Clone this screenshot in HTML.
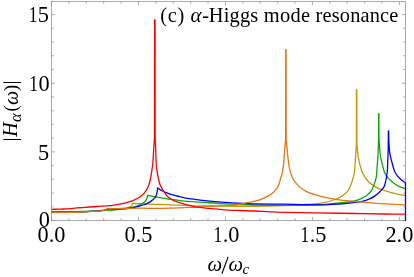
<!DOCTYPE html>
<html><head><meta charset="utf-8"><style>
html,body{margin:0;padding:0;background:#fff;}
svg{display:block;will-change:transform;}
text{font-family:"Liberation Serif",serif;fill:#000;}
</style></head><body>
<svg width="414" height="277" viewBox="0 0 414 277">
<rect width="414" height="277" fill="#fff"/>
<g fill="none" stroke="#8c8c8c" stroke-width="0.72">
<rect x="51.5" y="1.5" width="354.0" height="219.0"/>
<path d="M51.50 220.50v-3.60M51.50 1.50v3.60M68.89 220.50v-2.20M68.89 1.50v2.20M86.29 220.50v-2.20M86.29 1.50v2.20M103.68 220.50v-2.20M103.68 1.50v2.20M121.08 220.50v-2.20M121.08 1.50v2.20M138.47 220.50v-3.60M138.47 1.50v3.60M155.87 220.50v-2.20M155.87 1.50v2.20M173.26 220.50v-2.20M173.26 1.50v2.20M190.66 220.50v-2.20M190.66 1.50v2.20M208.06 220.50v-2.20M208.06 1.50v2.20M225.45 220.50v-3.60M225.45 1.50v3.60M242.84 220.50v-2.20M242.84 1.50v2.20M260.24 220.50v-2.20M260.24 1.50v2.20M277.63 220.50v-2.20M277.63 1.50v2.20M295.03 220.50v-2.20M295.03 1.50v2.20M312.43 220.50v-3.60M312.43 1.50v3.60M329.82 220.50v-2.20M329.82 1.50v2.20M347.21 220.50v-2.20M347.21 1.50v2.20M364.61 220.50v-2.20M364.61 1.50v2.20M382.00 220.50v-2.20M382.00 1.50v2.20M399.40 220.50v-3.60M399.40 1.50v3.60M51.50 220.50h3.60M405.50 220.50h-3.60M51.50 206.77h2.20M405.50 206.77h-2.20M51.50 193.05h2.20M405.50 193.05h-2.20M51.50 179.32h2.20M405.50 179.32h-2.20M51.50 165.59h2.20M405.50 165.59h-2.20M51.50 151.87h3.60M405.50 151.87h-3.60M51.50 138.14h2.20M405.50 138.14h-2.20M51.50 124.41h2.20M405.50 124.41h-2.20M51.50 110.68h2.20M405.50 110.68h-2.20M51.50 96.96h2.20M405.50 96.96h-2.20M51.50 83.23h3.60M405.50 83.23h-3.60M51.50 69.50h2.20M405.50 69.50h-2.20M51.50 55.78h2.20M405.50 55.78h-2.20M51.50 42.05h2.20M405.50 42.05h-2.20M51.50 28.32h2.20M405.50 28.32h-2.20M51.50 14.59h3.60M405.50 14.59h-3.60"/>
</g>
<g fill="none" stroke-width="1.3" stroke-linejoin="round" stroke-linecap="butt">
<path d="M51.50 212.20C61.67 212.03 71.84 211.98 82.00 211.70C86.84 211.57 91.67 211.27 96.50 210.95C99.64 210.74 102.77 210.37 105.90 210.10C107.93 209.92 109.97 209.79 112.00 209.60C115.64 209.26 119.27 208.91 122.90 208.50C124.34 208.34 125.79 208.21 127.20 207.90C128.19 207.68 129.21 207.37 130.10 206.90C130.78 206.54 131.30 205.90 131.90 205.40C132.13 204.75 132.37 204.10 132.60 203.45C134.90 203.50 137.20 203.51 139.50 203.60C141.90 203.69 144.30 203.88 146.70 204.00C149.47 204.14 152.23 204.31 155.00 204.40C158.33 204.51 161.67 204.51 165.00 204.60C166.67 204.64 168.33 204.74 170.00 204.80C174.83 204.97 179.67 205.11 184.50 205.30C188.00 205.44 191.50 205.66 195.00 205.80C196.67 205.86 198.33 205.88 200.00 205.90C208.33 205.98 216.67 206.02 225.00 206.10C235.00 206.19 245.00 206.47 255.00 206.40C265.00 206.33 275.00 206.05 285.00 205.70C291.00 205.49 297.00 205.06 303.00 204.70C307.00 204.46 311.02 204.33 315.00 203.90C318.35 203.53 321.69 202.95 325.00 202.30C327.42 201.82 329.85 201.26 332.20 200.50C334.69 199.69 337.17 198.76 339.50 197.60C341.04 196.83 342.42 195.74 343.80 194.70C344.82 193.94 345.80 193.10 346.70 192.20C347.37 191.53 348.03 190.82 348.50 190.00C349.37 188.48 350.04 186.83 350.70 185.20C351.37 183.53 351.98 181.82 352.50 180.10C353.08 178.19 353.59 176.25 354.00 174.30C354.29 172.89 354.47 171.44 354.60 170.00C354.94 166.31 355.14 162.60 355.40 158.90C355.57 156.47 355.74 154.03 355.90 151.60C356.07 149.07 356.23 146.53 356.40 144.00C356.42 125.90 356.43 107.80 356.45 89.70C356.57 89.70 356.68 89.70 356.80 89.70C356.83 107.80 356.87 125.90 356.90 144.00C357.13 146.53 357.31 149.07 357.60 151.60C357.88 154.04 358.10 156.50 358.60 158.90C359.37 162.63 360.31 166.35 361.40 170.00C361.78 171.25 362.41 172.43 363.00 173.60C363.68 174.96 364.36 176.34 365.20 177.60C366.06 178.87 367.08 180.05 368.10 181.20C368.68 181.85 369.32 182.46 370.00 183.00C371.15 183.92 372.38 184.77 373.60 185.60C374.78 186.40 375.93 187.28 377.20 187.90C378.73 188.65 380.40 189.11 382.00 189.70C382.66 189.94 383.33 190.19 384.00 190.40C386.39 191.15 388.78 191.95 391.20 192.60C393.61 193.25 396.06 193.79 398.50 194.30C400.82 194.79 403.17 195.17 405.50 195.60" stroke="#c09a0a"/>
<path d="M51.50 212.00C61.67 211.83 71.84 211.77 82.00 211.50C86.84 211.37 91.67 211.06 96.50 210.80C99.63 210.63 102.76 210.36 105.90 210.20C107.93 210.10 109.97 210.12 112.00 210.00C115.64 209.79 119.28 209.56 122.90 209.20C124.34 209.06 125.78 208.79 127.20 208.50C128.88 208.16 130.54 207.74 132.20 207.30C133.91 206.84 135.63 206.38 137.30 205.80C138.53 205.38 139.74 204.89 140.90 204.30C141.91 203.79 142.91 203.20 143.80 202.50C144.61 201.86 145.41 201.13 146.00 200.30C146.51 199.57 146.82 198.66 147.10 197.80C147.36 197.00 147.43 196.13 147.60 195.30C149.43 195.67 151.27 196.02 153.10 196.40C154.30 196.65 155.49 197.00 156.70 197.20C159.46 197.66 162.24 197.96 165.00 198.40C166.67 198.66 168.32 199.06 170.00 199.30C174.82 199.99 179.65 200.70 184.50 201.20C187.99 201.56 191.50 201.67 195.00 201.90C196.67 202.01 198.33 202.09 200.00 202.20C208.33 202.73 216.66 203.38 225.00 203.80C234.99 204.31 245.00 204.73 255.00 205.00C265.00 205.27 275.00 205.40 285.00 205.40C295.00 205.40 305.00 205.25 315.00 205.00C318.34 204.92 321.67 204.67 325.00 204.40C329.84 204.00 334.67 203.53 339.50 203.00C343.14 202.60 346.77 202.11 350.40 201.60C351.94 201.38 353.51 201.24 355.00 200.80C357.45 200.07 359.90 199.20 362.20 198.10C364.00 197.24 365.73 196.13 367.30 194.90C368.63 193.86 369.77 192.56 370.90 191.30C371.30 190.86 371.61 190.32 371.90 189.80C372.24 189.19 372.54 188.55 372.80 187.90C373.10 187.15 373.32 186.36 373.60 185.60C374.09 184.26 374.70 182.96 375.10 181.60C375.66 179.70 376.20 177.76 376.50 175.80C376.80 173.89 376.76 171.93 376.90 170.00C377.12 166.97 377.40 163.94 377.60 160.90C377.84 157.27 378.03 153.63 378.20 150.00C378.35 146.67 378.43 143.33 378.55 140.00C378.57 131.20 378.58 122.40 378.60 113.60C378.70 113.60 378.80 113.60 378.90 113.60C378.92 120.73 378.93 127.87 378.95 135.00C379.10 138.33 379.21 141.67 379.40 145.00C379.52 147.14 379.70 149.27 379.90 151.40C380.06 153.10 380.20 154.82 380.50 156.50C380.90 158.68 381.47 160.84 382.00 163.00C382.57 165.34 383.10 167.70 383.80 170.00C384.17 171.23 384.61 172.46 385.20 173.60C385.88 174.93 386.67 176.24 387.60 177.40C388.67 178.74 389.93 179.95 391.20 181.10C392.36 182.15 393.61 183.12 394.90 184.00C396.04 184.78 397.26 185.48 398.50 186.10C399.66 186.68 400.88 187.15 402.10 187.60C403.22 188.01 404.37 188.33 405.50 188.70" stroke="#0aa80a"/>
<path d="M51.50 212.40C61.67 212.23 71.84 212.19 82.00 211.90C86.84 211.76 91.67 211.43 96.50 211.10C99.00 210.93 101.50 210.63 104.00 210.40C104.67 210.17 105.35 209.98 106.00 209.70C106.45 209.51 106.87 209.23 107.30 209.00C108.87 208.95 110.43 208.88 112.00 208.85C115.63 208.78 119.27 208.81 122.90 208.70C124.34 208.66 125.77 208.57 127.20 208.40C129.61 208.11 132.02 207.75 134.40 207.30C136.12 206.98 137.81 206.55 139.50 206.10C140.71 205.78 141.92 205.41 143.10 205.00C144.32 204.58 145.53 204.12 146.70 203.60C147.69 203.16 148.68 202.67 149.60 202.10C150.61 201.47 151.58 200.75 152.50 200.00C153.38 199.29 154.27 198.55 155.00 197.70C155.47 197.15 155.84 196.48 156.10 195.80C156.54 194.65 156.85 193.42 157.10 192.20C157.39 190.78 157.50 189.33 157.70 187.90C158.47 188.47 159.19 189.10 160.00 189.60C160.92 190.17 161.93 190.61 162.90 191.10C163.93 191.61 164.94 192.16 166.00 192.60C167.34 193.16 168.71 193.68 170.10 194.10C172.51 194.82 174.97 195.36 177.40 196.00C179.77 196.63 182.10 197.45 184.50 197.90C187.96 198.55 191.50 198.80 195.00 199.30C196.67 199.54 198.32 199.93 200.00 200.10C208.32 200.93 216.66 201.66 225.00 202.30C231.03 202.76 237.06 203.08 243.10 203.40C247.06 203.61 251.03 203.82 255.00 203.90C265.00 204.09 275.00 204.05 285.00 204.20C291.00 204.29 297.00 204.51 303.00 204.60C310.33 204.71 317.67 205.00 325.00 204.80C332.24 204.60 339.48 203.98 346.70 203.40C349.48 203.18 352.24 202.76 355.00 202.40C357.40 202.09 359.86 201.97 362.20 201.40C364.69 200.80 367.16 199.94 369.50 198.90C371.53 198.00 373.47 196.85 375.30 195.60C376.84 194.55 378.25 193.28 379.60 192.00C380.75 190.92 381.78 189.70 382.80 188.50C383.28 187.94 383.83 187.38 384.10 186.70C384.76 185.08 385.19 183.32 385.60 181.60C386.06 179.69 386.40 177.74 386.70 175.80C387.00 173.88 387.26 171.94 387.40 170.00C387.61 166.97 387.63 163.93 387.75 160.90C387.90 157.27 388.05 153.63 388.20 150.00C388.27 143.63 388.33 137.27 388.40 130.90C388.50 130.90 388.60 130.90 388.70 130.90C388.73 133.93 388.77 136.97 388.80 140.00C389.00 143.33 389.13 146.67 389.40 150.00C389.50 151.21 389.68 152.41 389.90 153.60C390.21 155.31 390.60 157.01 391.00 158.70C391.46 160.64 391.97 162.57 392.50 164.50C393.01 166.34 393.52 168.18 394.10 170.00C394.32 170.68 394.56 171.37 394.90 172.00C395.52 173.14 396.21 174.27 397.00 175.30C397.87 176.44 398.88 177.48 399.90 178.50C400.82 179.42 401.78 180.30 402.80 181.10C403.65 181.77 404.60 182.30 405.50 182.90C405.50 195.60 405.50 208.30 405.50 221.00" stroke="#0000ff"/>
<path d="M51.50 212.55C61.67 212.37 71.84 212.30 82.00 212.00C86.84 211.85 91.67 211.55 96.50 211.20C99.01 211.02 101.54 210.81 104.00 210.40C104.70 210.28 105.33 209.87 106.00 209.60C106.33 209.33 106.67 209.07 107.00 208.80C108.67 208.77 110.33 208.73 112.00 208.70C115.63 208.63 119.27 208.56 122.90 208.50C129.27 208.39 135.63 208.22 142.00 208.20C146.33 208.19 150.67 208.40 155.00 208.40C160.00 208.40 165.00 208.34 170.00 208.20C174.84 208.07 179.67 207.77 184.50 207.60C188.00 207.47 191.50 207.44 195.00 207.30C196.67 207.24 198.34 207.13 200.00 207.00C203.17 206.76 206.33 206.36 209.50 206.20C214.66 205.93 219.84 205.93 225.00 205.70C228.64 205.53 232.29 205.44 235.90 205.00C238.33 204.70 240.70 203.98 243.10 203.50C245.53 203.01 247.97 202.57 250.40 202.10C251.93 201.80 253.50 201.62 255.00 201.20C257.43 200.52 259.87 199.78 262.20 198.80C264.71 197.75 267.16 196.49 269.50 195.10C271.03 194.19 272.48 193.09 273.80 191.90C274.88 190.92 275.86 189.79 276.70 188.60C277.49 187.49 278.20 186.27 278.70 185.00C279.40 183.24 279.76 181.33 280.30 179.50C280.80 177.80 281.36 176.12 281.80 174.40C282.23 172.72 282.59 171.01 282.90 169.30C283.16 167.88 283.36 166.44 283.50 165.00C283.86 161.31 284.10 157.60 284.40 153.90C284.60 151.47 284.80 149.03 285.00 146.60C285.21 144.07 285.43 141.53 285.65 139.00C285.68 109.20 285.72 79.40 285.75 49.60C285.87 49.60 285.98 49.60 286.10 49.60C286.13 79.40 286.17 109.20 286.20 139.00C286.43 141.53 286.66 144.07 286.90 146.60C287.13 149.03 287.34 151.47 287.60 153.90C288.00 157.60 288.39 161.31 288.90 165.00C289.10 166.45 289.40 167.88 289.75 169.30C290.17 171.02 290.63 172.73 291.20 174.40C291.71 175.90 292.28 177.40 293.00 178.80C293.55 179.86 294.26 180.85 295.00 181.80C296.03 183.12 297.12 184.41 298.30 185.60C299.52 186.84 300.80 188.07 302.20 189.10C303.34 189.94 304.64 190.55 305.90 191.20C307.08 191.81 308.26 192.44 309.50 192.90C311.86 193.77 314.28 194.51 316.70 195.20C319.44 195.98 322.21 196.70 325.00 197.30C328.61 198.07 332.25 198.73 335.90 199.30C339.49 199.86 343.09 200.28 346.70 200.70C349.46 201.02 352.23 201.23 355.00 201.50C359.83 201.97 364.66 202.53 369.50 202.90C374.66 203.30 379.83 203.51 385.00 203.80C391.83 204.18 398.67 204.53 405.50 204.90" stroke="#e8750f"/>
<path d="M51.50 209.40C54.33 209.30 57.17 209.21 60.00 209.10C63.33 208.97 66.67 208.89 70.00 208.70C71.24 208.63 72.47 208.44 73.70 208.30C74.80 208.17 75.90 207.99 77.00 207.90C78.66 207.76 80.33 207.72 82.00 207.60C86.83 207.25 91.67 206.87 96.50 206.50C101.67 206.10 106.85 205.84 112.00 205.30C114.42 205.04 116.80 204.50 119.20 204.10C121.13 203.78 123.10 203.61 125.00 203.15C127.43 202.56 129.89 201.90 132.20 200.95C134.72 199.92 137.16 198.59 139.50 197.20C140.49 196.61 141.31 195.75 142.20 195.00C142.74 194.55 143.34 194.13 143.80 193.60C144.61 192.67 145.32 191.63 146.00 190.60C146.55 189.77 147.05 188.89 147.50 188.00C147.98 187.06 148.47 186.10 148.80 185.10C149.40 183.27 149.87 181.38 150.30 179.50C150.74 177.58 151.08 175.64 151.40 173.70C151.68 172.01 151.85 170.30 152.10 168.60C152.28 167.40 152.60 166.21 152.70 165.00C153.19 158.88 153.44 152.73 153.85 146.60C154.04 143.73 154.28 140.87 154.50 138.00C154.55 98.60 154.60 59.20 154.65 19.80C154.78 19.80 154.92 19.80 155.05 19.80C155.10 59.20 155.15 98.60 155.20 138.00C155.33 140.87 155.48 143.73 155.60 146.60C155.85 152.73 155.92 158.88 156.30 165.00C156.45 167.41 156.83 169.81 157.20 172.20C157.50 174.14 157.87 176.08 158.30 178.00C158.83 180.35 159.34 182.73 160.10 185.00C160.38 185.83 160.97 186.53 161.40 187.30C161.94 188.26 162.43 189.25 163.00 190.20C163.57 191.15 164.17 192.09 164.80 193.00C165.41 193.89 166.01 194.78 166.70 195.60C167.31 196.32 167.97 197.01 168.70 197.60C169.24 198.04 169.89 198.35 170.50 198.70C171.33 199.18 172.14 199.69 173.00 200.10C174.37 200.76 175.76 201.40 177.20 201.90C179.60 202.73 182.05 203.42 184.50 204.10C186.88 204.76 189.30 205.28 191.70 205.90C192.80 206.18 193.88 206.61 195.00 206.80C196.65 207.08 198.34 207.12 200.00 207.30C203.17 207.65 206.33 208.08 209.50 208.40C214.66 208.92 219.83 209.43 225.00 209.80C229.66 210.13 234.33 210.31 239.00 210.50C244.33 210.71 249.67 210.78 255.00 211.00C260.00 211.21 265.00 211.57 270.00 211.80C275.00 212.03 280.00 212.29 285.00 212.40C295.00 212.62 305.00 212.64 315.00 212.80C328.00 213.01 341.00 213.27 354.00 213.50C364.00 213.67 374.00 213.86 384.00 214.00C391.17 214.10 398.33 214.13 405.50 214.20" stroke="#ff0000"/>
</g>
<g font-size="22.3px"><text x="37.56" y="242.00">0</text><text x="48.71" y="242.00">.0</text><text x="124.54" y="242.00">0</text><text x="135.69" y="242.00">.5</text><text transform="translate(222.26,242.00) scale(0.78,1)" text-anchor="end">1</text><text x="222.66" y="242.00">.0</text><text transform="translate(309.24,242.00) scale(0.78,1)" text-anchor="end">1</text><text x="309.64" y="242.00">.5</text><text x="385.46" y="242.00">2</text><text x="396.61" y="242.00">.0</text><text x="49.80" y="227.25" text-anchor="end">0</text><text x="49.20" y="159.80" text-anchor="end">5</text><text x="49.60" y="91.20" text-anchor="end">0</text><text transform="translate(38.05,91.20) scale(0.78,1)" text-anchor="end">1</text><text x="49.00" y="22.00" text-anchor="end">5</text><text transform="translate(37.45,22.00) scale(0.78,1)" text-anchor="end">1</text></g>
<g font-size="20.4px"><text x="160.2" y="21.5" textLength="24" lengthAdjust="spacing">(c)</text><text x="190.4" y="21.5" font-size="21px" font-style="italic">α</text><text x="202.2" y="21.5">-</text><text x="208.8" y="21.5" textLength="49.5" lengthAdjust="spacing">Higgs</text><text x="263.8" y="21.5" textLength="46.2" lengthAdjust="spacing">mode</text><text x="315.6" y="21.5" textLength="82.8" lengthAdjust="spacing">resonance</text></g>
<g font-size="20.6px" font-style="italic"><text x="207.4" y="270.6">ω</text><text x="228.4" y="270.6">ω</text><text x="242.6" y="274.4" font-size="15px">c</text></g>
<path d="M221.9 273.7L228.1 256.9" stroke="#000" stroke-width="1.15" fill="none"/>
<text transform="translate(17.1,141) rotate(-90)" font-size="20px"><tspan x="4.2" font-style="italic">H</tspan><tspan x="18.9" y="4.2" font-size="16.5px" font-style="italic">α</tspan><tspan x="29.5" y="0.2" font-size="18.6px">(</tspan><tspan x="36" y="1.3" font-style="italic">ω</tspan><tspan x="50.1" y="0.2" font-size="18.6px">)</tspan></text>
<path d="M3.3 139.5H21.1M3.3 82.5H21.1" stroke="#000" stroke-width="1" fill="none"/>
</svg>
</body></html>
